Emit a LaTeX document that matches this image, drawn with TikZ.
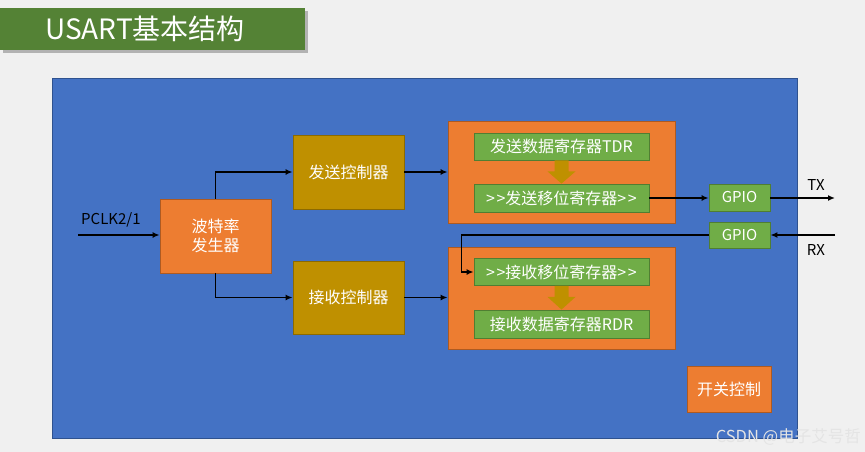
\documentclass[tikz,border=0pt]{standalone}
\usepackage{fontspec}
\setmainfont{Noto Sans CJK SC}
\usetikzlibrary{arrows.meta, positioning, calc}

\definecolor{pagegray}{HTML}{F0F0F0}
\definecolor{titlegreen}{HTML}{548235}
\definecolor{panelblue}{HTML}{4472C4}
\definecolor{panelborder}{HTML}{2F528F}
\definecolor{boxorange}{HTML}{ED7D31}
\definecolor{orangeborder}{HTML}{AE5A21}
\definecolor{boxgold}{HTML}{BF9000}
\definecolor{goldborder}{HTML}{8C6A00}
\definecolor{boxgreen}{HTML}{70AD47}
\definecolor{greenborder}{HTML}{507E32}
\definecolor{markgray}{HTML}{E4E4E4}

\tikzset{
  block/.style={draw, line width=0.8pt, inner sep=0pt, text=white, align=center, font=\fontsize{16}{19}\selectfont},
  orangebox/.style={block, fill=boxorange, draw=orangeborder},
  goldbox/.style={block, fill=boxgold, draw=goldborder},
  greenbox/.style={block, fill=boxgreen, draw=greenborder},
  wire/.style={line width=1.7pt, -{Latex[length=7pt,width=6pt]}},
  lbl/.style={inner sep=0pt, text=black, font=\fontsize{15}{18}\selectfont}
}

\begin{document}
\begin{tikzpicture}[x=1pt, y=-1pt]
    \useasboundingbox (0,0) rectangle (865,452);
    \fill[pagegray] (0,0) rectangle (865,452);
    % Title bar
    \fill[black!30] (3,11) rectangle (308,53);
    \fill[titlegreen] (0,8) rectangle (305,50);
    \node[text=white, font=\fontsize{28}{31}\selectfont] (title) at (145,29) {USART基本结构};
    % Panel
    \filldraw[fill=panelblue, draw=panelborder, line width=0.8pt] (52,78) rectangle (797,438);
    % Clock and controllers
    \node[orangebox, minimum width=111pt, minimum height=74pt] (baud) at (215.5,236) {波特率\\发生器};
    \node[goldbox, minimum width=111pt, minimum height=74pt] (txc) at (348.5,172) {发送控制器};
    \node[goldbox, minimum width=111pt, minimum height=73pt] (rxc) at (348.5,297.5) {接收控制器};
    % Register groups
    \node[orangebox, minimum width=227pt, minimum height=102pt] (txgroup) at (561.5,172) {};
    \node[orangebox, minimum width=227pt, minimum height=102pt] (rxgroup) at (561.5,298) {};
    \node[greenbox, minimum width=175pt, minimum height=27pt] (tdr) at (561.5,146.5) {发送数据寄存器TDR};
    \node[greenbox, minimum width=175pt, minimum height=28pt] (tsr) at (561.5,198) {>\kern1.5pt>发送移位寄存器>\kern1.5pt>};
    \node[greenbox, minimum width=175pt, minimum height=27pt] (rsr) at (561.5,272) {>\kern1.5pt>接收移位寄存器>\kern1.5pt>};
    \node[greenbox, minimum width=175pt, minimum height=28pt] (rdr) at (561.5,324) {接收数据寄存器RDR};
    % Pins
    \node[greenbox, minimum width=61pt, minimum height=27pt, font=\fontsize{15}{18}\selectfont] (gpiotx) at (739.5,197.5) {GPIO};
    \node[greenbox, minimum width=61pt, minimum height=26pt, font=\fontsize{15}{18}\selectfont] (gpiorx) at (739.5,235) {GPIO};
    \node[orangebox, minimum width=84pt, minimum height=46pt] (switch) at (729,389) {开关控制};
    % Fat arrows between registers
    \foreach \a/\b in {tdr/tsr, rsr/rdr} {
        \fill[boxgold] ($(\a.south)+(-7,0)$) -- ($(\a.south)+(7,0)$) -- ($(\a.south)+(7,11)$)
            -- ($(\a.south)+(14,11)$) -- (\b.north) -- ($(\a.south)+(-14,11)$) -- ($(\a.south)+(-7,11)$) -- cycle;
    }
    % Connectors
    \coordinate (clkin) at (78,235);
    \coordinate (txout) at (835,198);
    \coordinate (rxin) at (835,235);
    \node[lbl, anchor=base west] (pclk) at (81,224) {PCLK2/1};
    \node[lbl] (txlbl) at (816,185) {TX};
    \node[lbl] (rxlbl) at (816,250) {RX};
    \draw[wire] (clkin) -- (baud.west |- clkin);
    \draw[wire] (baud.north) |- (txc.west);
    \draw[wire] (baud.south) |- (rxc.west);
    \draw[wire] (txc.east) -- (txgroup.west);
    \draw[wire] (rxc.east) -- (rxc.east -| rxgroup.west);
    \draw[wire] (tsr.east) -- (tsr.east -| gpiotx.west);
    \draw[wire] (gpiotx.east |- txout) -- (txout);
    \draw[wire] (rxin) -- (gpiorx.east);
    \draw[wire] (gpiorx.west) -| ([xshift=-12pt]rsr.west) -- (rsr.west);
    % Watermark
    \node[anchor=east, inner sep=0pt, text=markgray, font=\fontsize{16.5}{18}\selectfont] (mark) at (861,437) {CSDN @电子艾号哲};
\end{tikzpicture}
\end{document}
